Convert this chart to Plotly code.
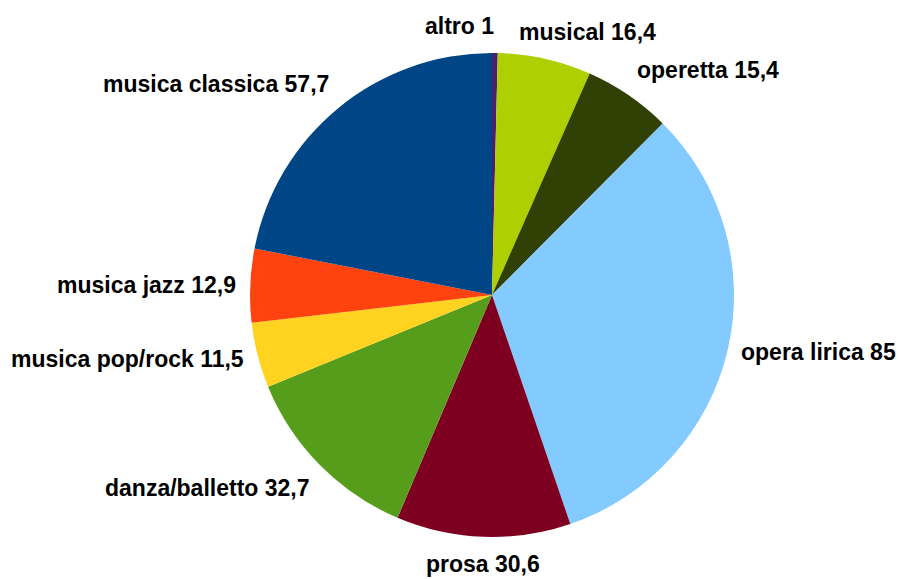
import math
import plotly.graph_objects as go

# spettacoli - data
labels = ['altro', 'musical', 'operetta', 'opera lirica', 'prosa',
          'danza/balletto', 'musica pop/rock', 'musica jazz', 'musica classica']
values = [1, 16.4, 15.4, 85, 30.6, 32.7, 11.5, 12.9, 57.7]
colors = ['#4b1f6f', '#aecf00', '#314004', '#83caff', '#7e0021',
          '#579d1c', '#ffd320', '#ff420e', '#004586']

W, H = 898, 579
cx, cy, R = 492, 295, 242   # pie centre and radius in px
gap = 13                    # distance of labels from the rim

fig = go.Figure(go.Pie(
    labels=labels,
    values=values,
    textinfo='none',
    sort=False,
    direction='clockwise',
    rotation=0,
    marker=dict(colors=colors, line=dict(width=0)),
    showlegend=False,
    hoverinfo='label+value',
    domain=dict(x=[(cx - R) / W, (cx + R) / W], y=[1 - (cy + R) / H, 1 - (cy - R) / H]),
))

# labels outside the slices, like the original (no leader lines)
total = sum(values)
cum = 0
for lab, v in zip(labels, values):
    ang = math.radians((cum + v / 2) / total * 360)
    cum += v
    s, c = math.sin(ang), math.cos(ang)
    px = cx + (R + gap) * s
    py = cy - (R + gap) * c
    xanchor = 'left' if s > 0.1 else 'right' if s < -0.1 else 'center'
    yanchor = 'bottom' if c > 0.5 else 'top' if c < -0.5 else 'middle'
    xshift = 0
    if lab == 'altro':      # pushed left to clear "musical"
        xanchor = 'right'
    if lab == 'musical':
        xshift = -30
    txt = f'{lab} {v:g}'.replace('.', ',')
    fig.add_annotation(
        x=px / W, y=1 - py / H, xref='paper', yref='paper',
        text=txt, showarrow=False, xanchor=xanchor, yanchor=yanchor, xshift=xshift,
        font=dict(family='Liberation Sans', size=23, color='black', weight='bold'),
        borderpad=0,
    )

fig.update_layout(
    width=W,
    height=H,
    margin=dict(l=0, r=0, t=0, b=0),
    paper_bgcolor='white',
    plot_bgcolor='white',
)

# drop the default 8px body margin so the figure fills the window
fig.write_html('out.html', config={'displayModeBar': False},
               post_script="document.body.style.margin='0';document.body.style.overflow='hidden';")
